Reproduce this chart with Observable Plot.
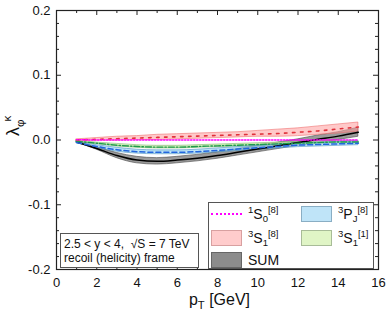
<!DOCTYPE html>
<html><head><meta charset="utf-8">
<script src="https://cdn.jsdelivr.net/npm/d3@7"></script>
<script src="https://cdn.jsdelivr.net/npm/@observablehq/plot@0.6"></script>
<style>
body{margin:0;background:#fff;font-family:"Liberation Sans",Arial,sans-serif;}
#wrap{position:relative;width:390px;height:309px;}
#wrap svg{position:absolute;left:0;top:0;}
.box{position:absolute;background:#fff;border:1px solid #555;box-sizing:border-box;color:#111;}
.info{left:60px;top:233px;width:139px;height:35px;font-size:12px;line-height:14px;padding:3px 0 0 3px;white-space:nowrap;}
.legend{left:208px;top:202px;width:166px;height:67px;font-size:14px;}
.item{position:absolute;height:18px;display:flex;align-items:center;white-space:nowrap;}
.sw{width:31px;height:16px;box-sizing:border-box;margin-right:6px;}
.ln{width:31px;height:0;border-top:2px dotted #ff00ff;margin-right:6px;}
sup,sub{font-size:68%;line-height:0;}
sup{vertical-align:6px;} sub{vertical-align:-3px;}
</style></head><body><div id="wrap"></div><script>
// ---- data ----
const pT = [1,2,3,4,5,6,7,8,9,10,11,12,13,14,15];
// 1S0[8] (no band)
const s0_8 = [0.0005,0.000,0.000,0.000,0.000,0.000,0.000,0.000,0.000,0.000,0.000,0.000,0.000,0.000,0.000];
// 3S1[8]
const s1_8    = [0.000,0.001,0.002,0.003,0.004,0.005,0.006,0.007,0.008,0.009,0.010,0.012,0.014,0.017,0.020];
const s1_8_hi = [0.001,0.003,0.005,0.006,0.008,0.009,0.010,0.011,0.012,0.014,0.016,0.018,0.021,0.024,0.027];
const s1_8_lo = [-0.001,-0.001,-0.001,0.000,0.000,0.001,0.002,0.003,0.004,0.005,0.005,0.006,0.008,0.010,0.013];
// 3PJ[8]
const pj_8    = [-0.004,-0.010,-0.015,-0.018,-0.019,-0.019,-0.018,-0.016,-0.014,-0.012,-0.010,-0.008,-0.007,-0.006,-0.005];
const pj_8_hi = [-0.003,-0.008,-0.012,-0.015,-0.016,-0.016,-0.015,-0.013,-0.011,-0.009,-0.007,-0.005,-0.004,-0.003,-0.002];
const pj_8_lo = [-0.005,-0.012,-0.018,-0.021,-0.022,-0.022,-0.021,-0.019,-0.017,-0.015,-0.013,-0.011,-0.010,-0.009,-0.008];
// 3S1[1]
const s1_1    = [-0.002,-0.005,-0.008,-0.010,-0.011,-0.011,-0.010,-0.009,-0.008,-0.007,-0.006,-0.005,-0.004,-0.003,-0.003];
const s1_1_hi = [-0.001,-0.004,-0.006,-0.008,-0.009,-0.009,-0.008,-0.007,-0.006,-0.005,-0.004,-0.003,-0.002,-0.001,-0.001];
const s1_1_lo = [-0.003,-0.006,-0.010,-0.012,-0.013,-0.013,-0.012,-0.011,-0.010,-0.009,-0.008,-0.007,-0.006,-0.005,-0.005];
// SUM
const sum    = [-0.003,-0.013,-0.024,-0.031,-0.033,-0.031,-0.028,-0.024,-0.019,-0.014,-0.009,-0.004,0.001,0.006,0.012];
const sum_hi = [-0.002,-0.011,-0.020,-0.026,-0.028,-0.026,-0.023,-0.019,-0.014,-0.009,-0.004,0.001,0.007,0.012,0.019];
const sum_lo = [-0.004,-0.015,-0.028,-0.036,-0.038,-0.036,-0.033,-0.029,-0.024,-0.019,-0.014,-0.009,-0.005,0.000,0.005];
// axis ticks
const xMajor = [0,2,4,6,8,10,12,14,16];
const xMinor = [1,3,5,7,9,11,13,15];
const yMajor = [-0.2,-0.1,0,0.1,0.2];
const yMinor = [-0.18,-0.16,-0.14,-0.12,-0.08,-0.06,-0.04,-0.02,0.02,0.04,0.06,0.08,0.12,0.14,0.16,0.18];

const W = 390, H = 309, mL = 56, mR = 12, mT = 10, mB = 40;
const fw = W - mL - mR, fh = H - mT - mB;

const rows = (c, lo, hi) => pT.map((x, i) => ({x, y: c[i], lo: lo ? lo[i] : null, hi: hi ? hi[i] : null}));
const dSUM = rows(sum, sum_lo, sum_hi), dS11 = rows(s1_1, s1_1_lo, s1_1_hi),
      dPJ = rows(pj_8, pj_8_lo, pj_8_hi), dS18 = rows(s1_8, s1_8_lo, s1_8_hi), dS08 = rows(s0_8);

const band = (d, fill, stroke, op) => Plot.areaY(d, {x: "x", y1: "lo", y2: "hi", fill, fillOpacity: op, stroke, strokeWidth: 0.6, curve: "monotone-x"});
const line = (d, stroke, dash, sw) => Plot.line(d, {x: "x", y: "y", stroke, strokeDasharray: dash, strokeWidth: sw, curve: "monotone-x"});

const chart = Plot.plot({
  width: W, height: H, marginLeft: mL, marginRight: mR, marginTop: mT, marginBottom: mB,
  style: {fontFamily: '"Liberation Sans", Arial, sans-serif', fontSize: "13px", color: "#111", background: "transparent"},
  x: {domain: [0, 16], label: null},
  y: {domain: [-0.2, 0.2], label: null},
  marks: [
    band(dSUM, "#7a7a7a", "#444", 0.75),
    band(dS11, "#c8eea0", "#7cb870", 0.7),
    band(dPJ, "#8fd0f2", "#4a90c0", 0.6),
    band(dS18, "#ff9c9c", "#f07070", 0.55),
    line(dSUM, "#000", null, 1.5),
    line(dS11, "#1f9a4e", "6 2 1.5 2", 1.4),
    line(dPJ, "#2266dd", "5 3", 1.5),
    line(dS18, "#e0303a", "2.5 5.5", 1.6),
    line(dS08, "#ff00ff", "1.3 1.7", 1.6),
    // ticks (inward)
    Plot.tickX(xMajor, {x: d => d, insetTop: fh - 5, stroke: "#222"}),
    Plot.tickX(xMinor, {x: d => d, insetTop: fh - 3, stroke: "#222"}),
    Plot.tickX(xMajor, {x: d => d, insetBottom: fh - 5, stroke: "#222"}),
    Plot.tickX(xMinor, {x: d => d, insetBottom: fh - 3, stroke: "#222"}),
    Plot.tickY(yMajor, {y: d => d, insetRight: fw - 5, stroke: "#222"}),
    Plot.tickY(yMinor, {y: d => d, insetRight: fw - 3, stroke: "#222"}),
    Plot.tickY(yMajor, {y: d => d, insetLeft: fw - 5, stroke: "#222"}),
    Plot.tickY(yMinor, {y: d => d, insetLeft: fw - 3, stroke: "#222"}),
    Plot.axisX(xMajor, {anchor: "bottom", tickSize: 0, tickPadding: 8, tickFormat: d => String(d), label: null}),
    Plot.axisY(yMajor, {anchor: "left", tickSize: 0, tickPadding: 6, tickFormat: d => d.toFixed(1), label: null}),
    Plot.frame({stroke: "#222", strokeWidth: 1.2}),
    Plot.text(["__XL__"], {frameAnchor: "bottom", dy: 35, text: d => d, fontSize: 16, dx: 2}),
    Plot.text(["__YL__"], {frameAnchor: "left", dx: -43, dy: -4, rotate: -90, text: d => d, fontSize: 18})
  ]
});

const wrap = document.getElementById("wrap");
wrap.appendChild(chart);

// rich axis titles
d3.select(chart).selectAll("text").each(function() {
  const t = d3.select(this);
  if (this.textContent === "__XL__") {
    t.text(null);
    t.append("tspan").text("p");
    t.append("tspan").attr("dy", 4).attr("font-size", "70%").text("T");
    t.append("tspan").attr("dy", -4).text(" [GeV]");
  } else if (this.textContent === "__YL__") {
    t.text(null);
    t.append("tspan").text("λ");
    t.append("tspan").attr("dy", 5).attr("font-size", "65%").text("φ");
    t.append("tspan").attr("dx", -2).attr("dy", -13).attr("font-size", "65%").text("κ");
  }
});

// info box
const info = document.createElement("div");
info.className = "box info";
info.innerHTML = "2.5 &lt; y &lt; 4,&nbsp; √S = 7 TeV<br>recoil (helicity) frame";
wrap.appendChild(info);

// legend
const legendItems = [
  {html: "<sup>1</sup>S<sub>0</sub><sup>[8]</sup>", kind: "line", left: 2, top: 2},
  {html: "<sup>3</sup>P<sub>J</sub><sup>[8]</sup>", kind: "#bfe4f8", border: "#8aaec4", left: 92, top: 2},
  {html: "<sup>3</sup>S<sub>1</sub><sup>[8]</sup>", kind: "#ffcccc", border: "#d8a0a0", left: 2, top: 26},
  {html: "<sup>3</sup>S<sub>1</sub><sup>[1]</sup>", kind: "#e0f5c6", border: "#a8bc98", left: 92, top: 26},
  {html: "SUM", kind: "#8c8c8c", border: "#666", left: 2, top: 48}
];
const lg = document.createElement("div");
lg.className = "box legend";
for (const it of legendItems) {
  const el = document.createElement("div");
  el.className = "item";
  el.style.left = it.left + "px"; el.style.top = it.top + "px";
  const sw = document.createElement("div");
  if (it.kind === "line") sw.className = "ln";
  else { sw.className = "sw"; sw.style.background = it.kind; sw.style.border = "1px solid " + it.border; }
  el.appendChild(sw);
  const lab = document.createElement("span");
  lab.innerHTML = it.html;
  el.appendChild(lab);
  lg.appendChild(el);
}
wrap.appendChild(lg);
</script></body></html>
